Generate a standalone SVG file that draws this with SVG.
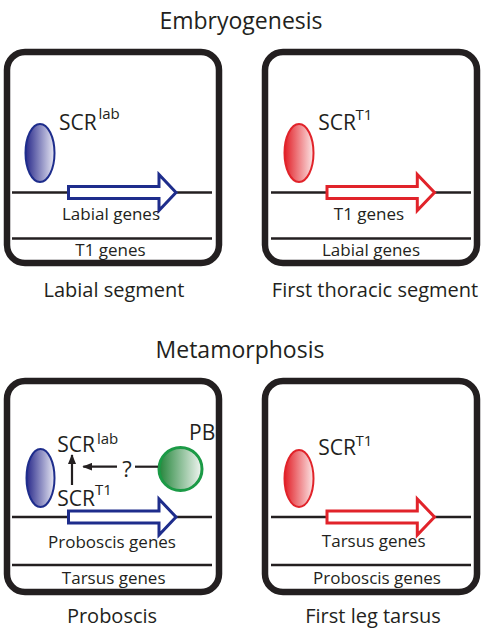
<svg xmlns="http://www.w3.org/2000/svg" width="500" height="634" viewBox="0 0 500 634">
<defs>
<style>
text{font-family:"Open Sans","Liberation Sans",sans-serif;fill:#231f20}
.title{font-size:23px;text-anchor:middle}
.cap{font-size:20px;text-anchor:middle}
.gene{font-size:17px;text-anchor:middle}
.scr{font-size:21px}
.sup{font-size:15px}
.box{fill:#fff;stroke:#231f20;stroke-width:6.5}
.dna{stroke:#231f20;stroke-width:2.5;fill:none}
.barrow{fill:#fff;stroke:#1e2d8c;stroke-width:3;stroke-linejoin:miter}
.rarrow{fill:#fff;stroke:#e1232a;stroke-width:3;stroke-linejoin:miter}
.bell{fill:url(#gb);stroke:#1e2d8c;stroke-width:2}
.rell{fill:url(#gr);stroke:#e1232a;stroke-width:2}
.conn{stroke:#231f20;stroke-width:2.2;fill:none}
</style>
<linearGradient id="gb" x1="0" y1="0" x2="1" y2="0">
<stop offset="0" stop-color="#28298a"/><stop offset="1" stop-color="#e8e8f4"/>
</linearGradient>
<linearGradient id="gr" x1="0" y1="0" x2="1" y2="0">
<stop offset="0" stop-color="#e21f27"/><stop offset="1" stop-color="#fbe6e6"/>
</linearGradient>
<linearGradient id="gg" x1="0" y1="0" x2="1" y2="0">
<stop offset="0" stop-color="#23853a"/><stop offset="1" stop-color="#f2f6f2"/>
</linearGradient>
<marker id="ah" viewBox="0 0 10 8" refX="9" refY="4" markerWidth="10" markerHeight="8" markerUnits="userSpaceOnUse" orient="auto">
<path d="M0,0 L10,4 L0,8 Z" fill="#231f20"/>
</marker>
</defs>

<text class="title" x="241" y="29">Embryogenesis</text>
<text class="title" x="240" y="358">Metamorphosis</text>

<g id="labial-segment">
<rect class="box" x="7" y="52" width="212" height="211" rx="18"/>
<line class="dna" x1="12" y1="192.5" x2="212" y2="192.5"/>
<line class="dna" x1="12" y1="238.5" x2="212" y2="238.5"/>
<path class="barrow" d="M68.5,186.5 H159 V174.5 L176,192.5 L159,210.5 V198.5 H68.5 Z"/>
<ellipse class="bell" cx="40" cy="153" rx="14.5" ry="29"/>
<text class="scr" x="59" y="130">SCR</text>
<text class="sup" x="98.5" y="118.5">lab</text>
<text class="gene" x="111" y="219.5">Labial genes</text>
<text class="gene" x="110.5" y="256">T1 genes</text>
<text class="cap" x="114" y="297">Labial segment</text>
</g>

<g id="first-thoracic-segment">
<rect class="box" x="265" y="52" width="212" height="211" rx="18"/>
<line class="dna" x1="271" y1="192.5" x2="471" y2="192.5"/>
<line class="dna" x1="271" y1="238.5" x2="471" y2="238.5"/>
<path class="rarrow" d="M327,186.5 H417.3 V174.5 L434.5,192.5 L417.3,210.5 V198.5 H327 Z"/>
<ellipse class="rell" cx="299" cy="153" rx="14.5" ry="29"/>
<text class="scr" x="318.3" y="130">SCR</text>
<text class="sup" x="355.5" y="120">T1</text>
<text class="gene" x="369" y="219.5">T1 genes</text>
<text class="gene" x="371" y="256">Labial genes</text>
<text class="cap" x="375" y="297">First thoracic segment</text>
</g>

<g id="proboscis">
<rect class="box" x="7" y="381" width="212" height="211" rx="18"/>
<line class="dna" x1="12" y1="517" x2="212" y2="517"/>
<line class="dna" x1="12" y1="565" x2="212" y2="565"/>
<path class="barrow" d="M68.5,511 H159 V499 L176,517 L159,535 V523 H68.5 Z"/>
<ellipse class="bell" cx="40.5" cy="478" rx="14" ry="29"/>
<text class="scr" x="57.3" y="452">SCR</text>
<text class="sup" x="97" y="443.5">lab</text>
<text class="scr" x="57.3" y="506">SCR</text>
<text class="sup" x="95" y="494.5">T1</text>
<text x="127" y="477.3" style="font-size:22px;text-anchor:middle">?</text>
<text x="189" y="440" style="font-size:21px">PB</text>
<circle id="pb" cx="180.5" cy="469" r="21.5" fill="url(#gg)" stroke="#1b9a46" stroke-width="3"/>
<text class="gene" x="112" y="547.5">Proboscis genes</text>
<text class="gene" x="113.7" y="584">Tarsus genes</text>
<text class="cap" x="112" y="623">Proboscis</text>
</g>

<g id="first-leg-tarsus">
<rect class="box" x="265" y="381" width="212" height="211" rx="18"/>
<line class="dna" x1="271" y1="517" x2="471" y2="517"/>
<line class="dna" x1="271" y1="565" x2="471" y2="565"/>
<path class="rarrow" d="M327,511 H417.3 V499 L434.5,517 L417.3,535 V523 H327 Z"/>
<ellipse class="rell" cx="299" cy="478.5" rx="14.5" ry="28.5"/>
<text class="scr" x="318.3" y="455">SCR</text>
<text class="sup" x="355.5" y="446">T1</text>
<text class="gene" x="373.7" y="546.7">Tarsus genes</text>
<text class="gene" x="377" y="584">Proboscis genes</text>
<text class="cap" x="373" y="623">First leg tarsus</text>
</g>

<g id="connectors">
<line class="conn" x1="72" y1="485" x2="72" y2="455" marker-end="url(#ah)"/>
<line class="conn" x1="117" y1="466.7" x2="83.3" y2="466.7" marker-end="url(#ah)"/>
<line class="conn" x1="135" y1="466.7" x2="158" y2="466.7"/>
</g>
</svg>
